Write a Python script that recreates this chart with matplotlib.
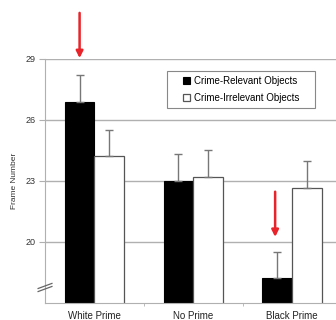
import matplotlib.pyplot as plt
from matplotlib.patches import Rectangle
import numpy as np

plt.rcParams['font.family'] = ['Liberation Sans', 'DejaVu Sans']

categories = ['White Prime', 'No Prime', 'Black Prime']
relevant = [26.9, 23.0, 18.2]
relevant_err = [1.3, 1.3, 1.3]
irrelevant = [24.2, 23.2, 22.65]
irrelevant_err = [1.3, 1.3, 1.3]
yticks = [20, 23, 26, 29]

fig = plt.figure(figsize=(3.36, 3.2), dpi=100)
ax = fig.add_axes([0.134, 0.054, 0.87, 0.762])

x = np.arange(len(categories))
w = 0.3
grid_c = '#b0b0b0'

for y in yticks:
    ax.axhline(y, color=grid_c, lw=1, zorder=0)

ax.bar(x - w / 2, relevant, w, bottom=0, color='black', edgecolor='black',
       lw=0.8, label='Crime-Relevant Objects', zorder=2)
ax.bar(x + w / 2, irrelevant, w, bottom=0, color='white', edgecolor='#555555',
       lw=0.9, label='Crime-Irrelevant Objects', zorder=2)
ax.errorbar(x - w / 2, relevant, yerr=[[0] * 3, relevant_err], fmt='none',
            ecolor='#777777', elinewidth=1, capsize=3, zorder=3)
ax.errorbar(x + w / 2, irrelevant, yerr=[[0] * 3, irrelevant_err], fmt='none',
            ecolor='#777777', elinewidth=1, capsize=3, zorder=3)

ax.set_ylim(17, 29)
ax.set_xlim(-0.5, 2.46)
ax.set_yticks(yticks)
ax.set_yticklabels([str(t) for t in yticks], fontsize=6.5, color='#333333')
ax.set_xticks(x)
ax.set_xticklabels(categories, fontsize=7, color='#222222')
ax.tick_params(axis='x', length=0, pad=6)
ax.tick_params(axis='y', length=4, color=grid_c, pad=3)
ax.set_xticks([0.5, 1.5], minor=True)
ax.tick_params(axis='x', which='minor', length=2, color=grid_c)
ax.set_ylabel('Frame Number', fontsize=6, color='#333333', labelpad=5)

for s in ['top', 'right']:
    ax.spines[s].set_visible(False)
ax.spines['left'].set_color(grid_c)
ax.spines['bottom'].set_color(grid_c)

# axis break mark
ax.plot([-0.57, -0.43], [17.55, 17.8], color='#666666', lw=0.9, clip_on=False, zorder=4)
ax.plot([-0.57, -0.43], [17.7, 17.95], color='#666666', lw=0.9, clip_on=False, zorder=4)

# red arrows
ax.annotate('', xy=(-0.15, 28.9), xytext=(-0.15, 31.4), annotation_clip=False,
            arrowprops=dict(arrowstyle='-|>', color='#e8242a', lw=1.8, mutation_scale=10))
ax.annotate('', xy=(1.83, 20.1), xytext=(1.83, 22.6), annotation_clip=False,
            arrowprops=dict(arrowstyle='-|>', color='#e8242a', lw=1.8, mutation_scale=10))

# legend box drawn separately so it can be wider than its contents
ax.add_patch(Rectangle((0.417, 0.799), 0.507, 0.151, transform=ax.transAxes,
                       facecolor='white', edgecolor='#888888', lw=0.8, zorder=4))
ax.legend(loc='center', bbox_to_anchor=(0.67, 0.874), fontsize=7,
          frameon=False, handlelength=0.7, handleheight=0.7, handletextpad=0.4,
          borderpad=0, labelspacing=0.75).set_zorder(5)

fig.savefig('out.png', dpi=100)
